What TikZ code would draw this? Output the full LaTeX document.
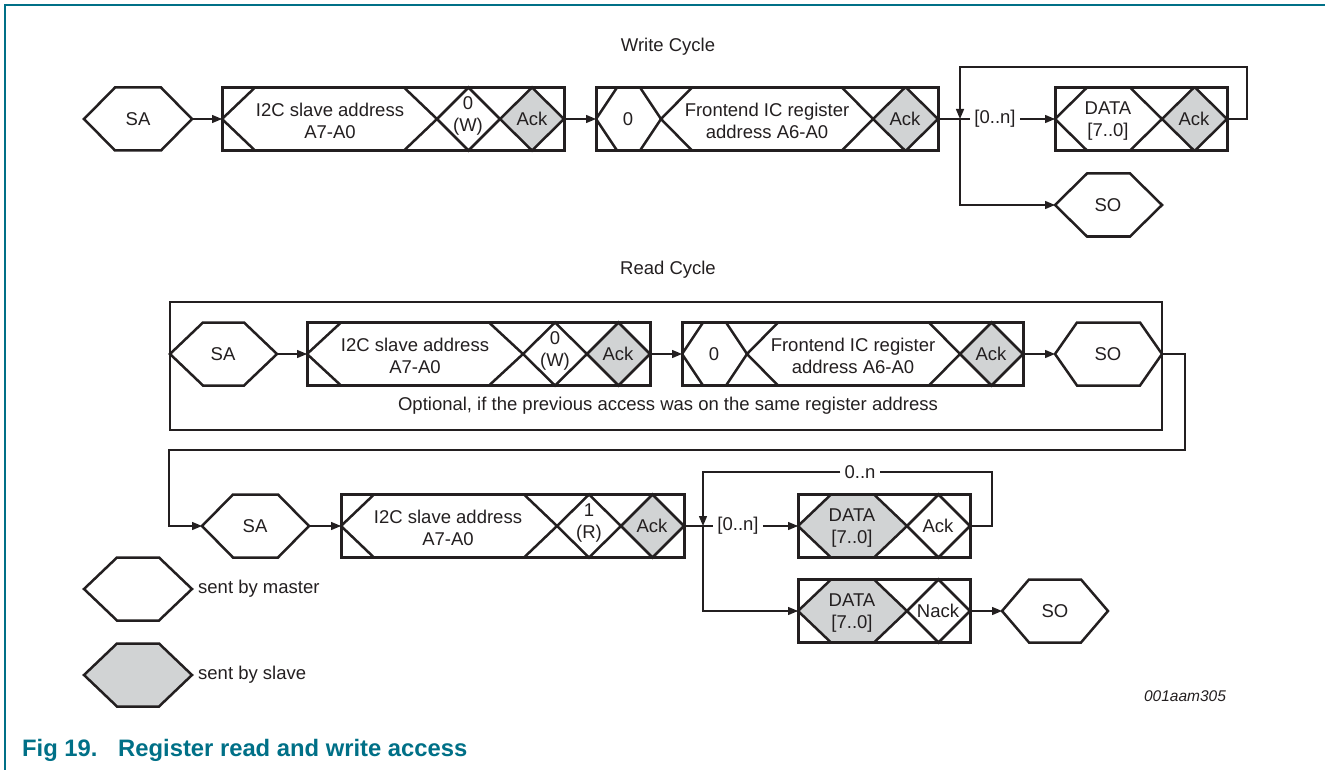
\documentclass[tikz,border=0pt]{standalone}
\usepackage{fontspec}
\setmainfont{Liberation Sans}
\usetikzlibrary{arrows.meta}
\definecolor{nxpteal}{RGB}{0,112,135}
\definecolor{slavegray}{RGB}{209,211,212}
\definecolor{ink}{RGB}{35,31,32}
\newcommand\drawhex[6]{%
  \filldraw[shapeline, fill=#6] (#2,#5) -- ({#2+#3},{#5-31.5}) -- ({#4-#3},{#5-31.5}) -- (#4,#5) -- ({#4-#3},{#5+31.5}) -- ({#2+#3},{#5+31.5}) -- cycle;
  \coordinate (#1-w) at (#2,#5);
  \coordinate (#1-e) at (#4,#5);
}
\newcommand\drawbox[4]{%
  \draw[boxline] (#2,{#4-31.5}) rectangle (#3,{#4+31.5});
  \coordinate (#1-w) at (#2,#4);
  \coordinate (#1-e) at (#3,#4);
}
\begin{document}
\begin{tikzpicture}[x=1pt,y=-1pt,
  shapeline/.style={draw=ink, line width=2.5pt},
  boxline/.style={draw=ink, line width=3pt},
  conn/.style={draw=ink, line width=1.4pt},
  arr/.style={conn, -{Triangle[length=10pt,width=8pt]}},
  txt/.style={text=ink, font=\fontsize{18.5}{22}\selectfont, align=center, inner sep=0pt},
  lbl/.style={txt, inner sep=4pt},
]
\useasboundingbox (0,0) rectangle (1325,770);
\draw[nxpteal, line width=2pt] (5,770) -- (5,5) -- (1325,5);

% titles
\node[txt] (wtitle) at (668,47) {Write Cycle};
\node[txt] (rtitle) at (668,270) {Read Cycle};

% ---------------- Write cycle ----------------
\drawhex{wsa}{84}{31}{192}{119}{white}
\node[txt] (wsat) at (138,119) {SA};

\drawhex{w1h}{222}{33}{437}{119}{white}
\drawhex{w1d}{437}{31.5}{500}{119}{white}
\drawhex{w1a}{500}{32}{564}{119}{slavegray}
\drawbox{w1}{222}{564}{119}
\node[txt] (w1ht) at (330,121) {I2C slave address\\A7-A0};
\node[txt] (w1dt) at (468,116) {0\\(W)};
\node[txt] (w1at) at (532,119) {Ack};

\drawhex{w2z}{596}{21}{661}{119}{white}
\drawhex{w2h}{661}{31}{873}{119}{white}
\drawhex{w2a}{873}{32}{938}{119}{slavegray}
\drawbox{w2}{596}{938}{119}
\node[txt] (w2zt) at (628,119) {0};
\node[txt] (w2ht) at (767,121) {Frontend IC register\\address A6-A0};
\node[txt] (w2at) at (905,119) {Ack};

\drawhex{w3h}{1055}{32}{1162}{119}{white}
\drawhex{w3a}{1162}{32}{1227}{119}{slavegray}
\drawbox{w3}{1055}{1227}{119}
\node[txt] (w3ht) at (1108,121) {DATA\\{[}7..0{]}};
\node[txt] (w3at) at (1194,119) {Ack};

\drawhex{wso}{1055}{32}{1162}{205}{white}
\node[txt] (wsot) at (1108,205) {SO};

\draw[arr] (wsa-e) -- (w1-w);
\draw[arr] (w1-e) -- (w2-w);
\coordinate (wj) at (960,119);
\node[lbl] (wn) at (995,119) {[0..n]};
\draw[conn] (w2-e) -- (wn.west);
\draw[arr] (wn.east) -- (w3-w);
\draw[arr] (wj) |- (wso-w);
\draw[arr] (w3-e) -- (1247,119) -- (1247,67) -- (960,67) -- (wj);

% ---------------- Read cycle ----------------
\draw[boxline, line width=2.6pt] (170,302) rectangle (1162,430);
\node[txt] (opt) at (668,406) {Optional, if the previous access was on the same register address};

\drawhex{rsa}{170}{33}{277}{354}{white}
\node[txt] (rsat) at (223,354) {SA};

\drawhex{r1h}{307}{34}{523}{354}{white}
\drawhex{r1d}{523}{32}{587}{354}{white}
\drawhex{r1a}{587}{31.5}{650}{354}{slavegray}
\drawbox{r1}{307}{650}{354}
\node[txt] (r1ht) at (415,356) {I2C slave address\\A7-A0};
\node[txt] (r1dt) at (555,351) {0\\(W)};
\node[txt] (r1at) at (618,354) {Ack};

\drawhex{r2z}{682}{21}{747}{354}{white}
\drawhex{r2h}{747}{31}{960}{354}{white}
\drawhex{r2a}{960}{31.5}{1023}{354}{slavegray}
\drawbox{r2}{682}{1023}{354}
\node[txt] (r2zt) at (714,354) {0};
\node[txt] (r2ht) at (853,356) {Frontend IC register\\address A6-A0};
\node[txt] (r2at) at (991,354) {Ack};

\drawhex{rso}{1055}{22}{1162}{354}{white}
\node[txt] (rsot) at (1108,354) {SO};

\draw[arr] (rsa-e) -- (r1-w);
\draw[arr] (r1-e) -- (r2-w);
\draw[arr] (r2-e) -- (rso-w);

% bottom row
\drawhex{bsa}{202}{31}{309}{526}{white}
\node[txt] (bsat) at (255,526) {SA};

\drawhex{b1h}{341}{33}{557}{526}{white}
\drawhex{b1d}{557}{32}{621}{526}{white}
\drawhex{b1a}{621}{31.5}{684}{526}{slavegray}
\drawbox{b1}{341}{684}{526}
\node[txt] (b1ht) at (448,528) {I2C slave address\\A7-A0};
\node[txt] (b1dt) at (589,523) {1\\(R)};
\node[txt] (b1at) at (652,526) {Ack};

\draw[arr] (rso-e) -- (1185,354) -- (1185,450) -- (169,450) -- (169,526) -- (bsa-w);
\draw[arr] (bsa-e) -- (b1-w);

\drawhex{b2h}{798}{33}{907}{526}{slavegray}
\drawhex{b2a}{907}{31.5}{970}{526}{white}
\drawbox{b2}{798}{970}{526}
\node[txt] (b2ht) at (852,528) {DATA\\{[}7..0{]}};
\node[txt] (b2at) at (938,526) {Ack};

\drawhex{b3h}{798}{33}{907}{611}{slavegray}
\drawhex{b3a}{907}{31.5}{970}{611}{white}
\drawbox{b3}{798}{970}{611}
\node[txt] (b3ht) at (852,613) {DATA\\{[}7..0{]}};
\node[txt] (b3at) at (938,611) {Nack};

\drawhex{bso}{1002}{27}{1108}{611}{white}
\node[txt] (bsot) at (1055,611) {SO};

\coordinate (bj) at (703,526);
\node[lbl] (bn) at (738,526) {[0..n]};
\draw[conn] (b1-e) -- (bn.west);
\draw[arr] (bn.east) -- (b2-w);
\node[lbl] (bloop) at (860,472) {0..n};
\draw[conn] (b2-e) -- (992,526) -- (992,472) -- (bloop.east);
\draw[arr] (bloop.west) -- (703,472) -- (bj);
\draw[arr] (bj) |- (b3-w);
\draw[arr] (b3-e) -- (bso-w);

% legend
\drawhex{lm}{84}{33}{192}{589}{white}
\node[txt, anchor=west] (lmt) at (198,589) {sent by master};
\drawhex{ls}{84}{33}{192}{675}{slavegray}
\node[txt, anchor=west] (lst) at (198,675) {sent by slave};

\node[txt, font=\fontsize{15.5}{18}\selectfont\itshape] (fid) at (1185,696) {001aam305};

\node[anchor=west, inner sep=0pt, text=nxpteal, font=\fontsize{23.8}{26}\selectfont\bfseries] (cap1) at (22,750) {Fig 19.};
\node[anchor=west, inner sep=0pt, text=nxpteal, font=\fontsize{23.8}{26}\selectfont\bfseries] (cap2) at (118,750) {Register read and write access};
\end{tikzpicture}
\end{document}
